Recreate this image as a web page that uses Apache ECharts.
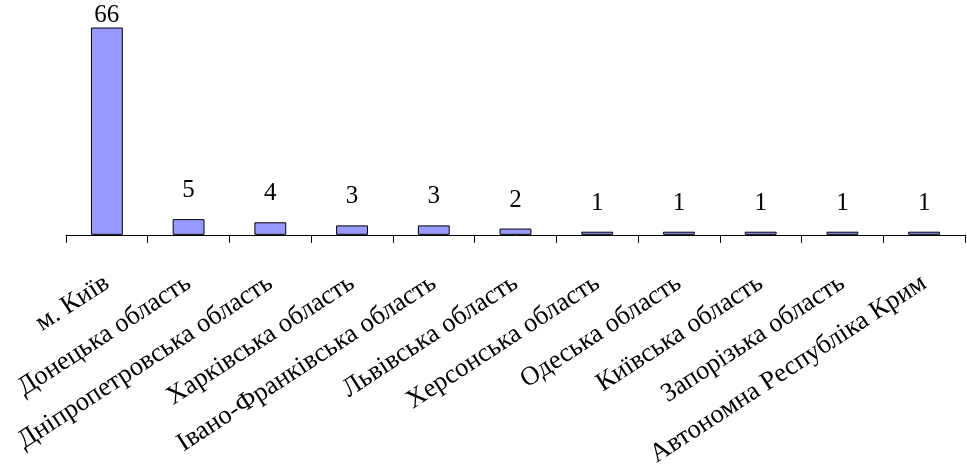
<!DOCTYPE html>
<html><head><meta charset="utf-8">
<script src="https://cdn.jsdelivr.net/npm/echarts@6/dist/echarts.min.js"></script>
<style>html,body{margin:0;padding:0;background:#fff}#c{width:967px;height:470px}</style>
</head><body><div id="c"></div>
<script>
const categories = ["м. Київ","Донецька область","Дніпропетровська область","Харківська область","Івано-Франківська область","Львівська область","Херсонська область","Одеська область","Київська область","Запорізька область","Автономна Республіка Крим"];
const values = [66,5,4,3,3,2,1,1,1,1,1];
const chart = echarts.init(document.getElementById('c'), null, {renderer:'canvas'});
const font = '"Liberation Serif","Times New Roman",serif';
chart.setOption({
  animation:false,
  backgroundColor:'#fff',
  grid:{left:66,right:2,top:15,bottom:233,containLabel:false},
  xAxis:{type:'category',data:categories,
    axisLine:{lineStyle:{color:'#000',width:1}},
    axisTick:{show:true,length:8,lineStyle:{color:'#000'},alignWithLabel:false},
    axisLabel:{rotate:33,interval:0,margin:46,color:'#000',fontFamily:font,fontSize:26.5}
  },
  yAxis:{type:'value',min:0,max:70,show:false,splitLine:{show:false}},
  series:[{type:'bar',barWidth:'39%',
    data:values.map((v,i)=>({value:v,label:{distance:i===0?0:16}})),
    itemStyle:{color:'#9999FF',borderColor:'#000',borderWidth:1},
    label:{show:true,position:'top',color:'#000',fontFamily:font,fontSize:25}
  }]
});
</script></body></html>
